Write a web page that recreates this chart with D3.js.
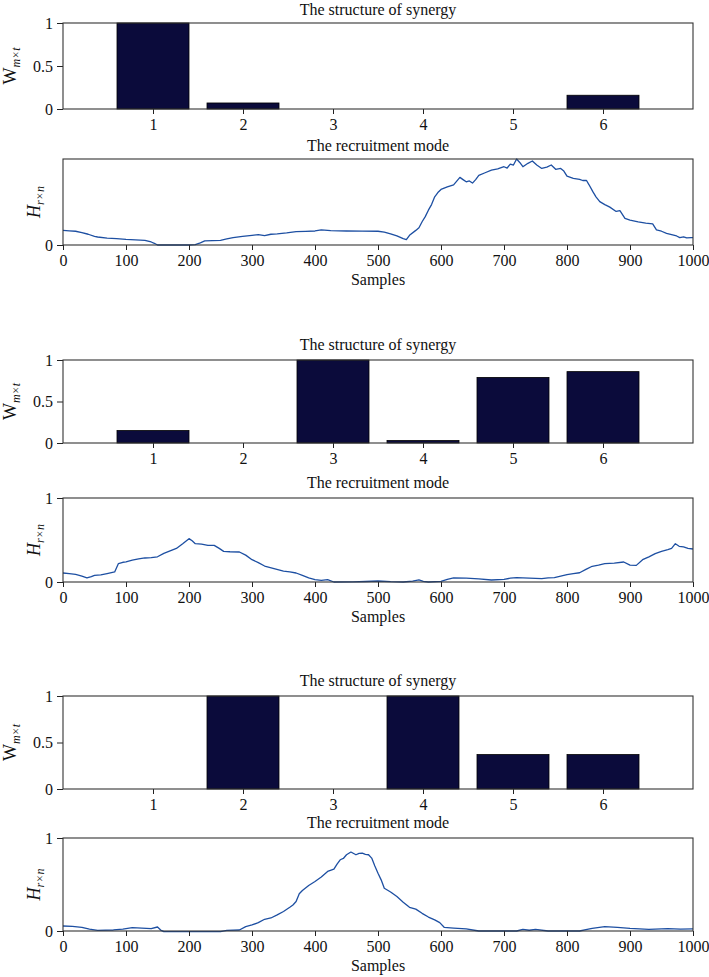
<!DOCTYPE html>
<html>
<head>
<meta charset="utf-8">
<script src="https://cdn.jsdelivr.net/npm/d3@7"></script>
<style>
  body { margin: 0; background: #fff; }
  svg text { font-family: "Liberation Serif", "DejaVu Serif", serif; fill: #111; }
</style>
</head>
<body>
<svg id="chart" width="709" height="977"></svg>
<script>
// bar categories and synergy weights
const categories = [1, 2, 3, 4, 5, 6];
const synergy1 = [1.0, 0.07, 0, 0, 0, 0.16];
const synergy2 = [0.15, 0, 1.0, 0.03, 0.79, 0.86];
const synergy3 = [0, 1.0, 0, 1.0, 0.37, 0.37];
const barTicksY = [0, 0.5, 1];
const sampleTicks = [0, 100, 200, 300, 400, 500, 600, 700, 800, 900, 1000];

// recruitment modes: [sample, value]
const mode1 = [
  [0, 0.17], [10, 0.165], [20, 0.16], [30, 0.145], [40, 0.125], [50, 0.10], [55, 0.093], [70, 0.08],
  [85, 0.075], [100, 0.066], [115, 0.06], [130, 0.054], [140, 0.035], [145, 0.02], [150, 0],
  [175, 0], [200, 0], [210, 0.004], [218, 0.025], [225, 0.047], [250, 0.054], [260, 0.07],
  [270, 0.085], [285, 0.1], [300, 0.113], [310, 0.12], [320, 0.11], [330, 0.125], [340, 0.13],
  [355, 0.14], [370, 0.155], [385, 0.158], [400, 0.163], [410, 0.175], [425, 0.168], [450, 0.163],
  [475, 0.162], [500, 0.16], [510, 0.15], [520, 0.13], [530, 0.105], [540, 0.074], [545, 0.062],
  [550, 0.113], [560, 0.17], [565, 0.2], [570, 0.27], [575, 0.33], [580, 0.405], [585, 0.47],
  [590, 0.56], [595, 0.61], [600, 0.646], [610, 0.675], [620, 0.70], [630, 0.786], [635, 0.76],
  [640, 0.735], [645, 0.745], [650, 0.72], [655, 0.76], [660, 0.81], [670, 0.84], [680, 0.87],
  [690, 0.885], [700, 0.91], [705, 0.895], [710, 0.94], [715, 0.93], [720, 1.0], [725, 0.96],
  [730, 0.91], [738, 0.95], [745, 0.977], [752, 0.93], [760, 0.89], [768, 0.905], [775, 0.93],
  [782, 0.88], [790, 0.89], [795, 0.86], [800, 0.80], [810, 0.775], [820, 0.763], [825, 0.75],
  [831, 0.75], [835, 0.7], [841, 0.62], [846, 0.56], [852, 0.505], [860, 0.47], [868, 0.44],
  [878, 0.39], [884, 0.40], [892, 0.31], [900, 0.29], [913, 0.27], [925, 0.255], [936, 0.245],
  [942, 0.175], [950, 0.16], [958, 0.136], [966, 0.12], [974, 0.105], [979, 0.086], [985, 0.095],
  [990, 0.082], [997, 0.086], [1000, 0.085]
];
const mode2 = [
  [0, 0.107], [10, 0.1], [20, 0.09], [30, 0.07], [38, 0.048], [45, 0.065], [50, 0.08], [60, 0.085],
  [70, 0.10], [82, 0.12], [88, 0.22], [95, 0.235], [100, 0.24], [110, 0.26], [120, 0.275],
  [130, 0.286], [140, 0.29], [150, 0.30], [160, 0.34], [170, 0.37], [180, 0.40], [190, 0.456],
  [200, 0.516], [205, 0.49], [210, 0.456], [220, 0.45], [230, 0.436], [240, 0.436], [248, 0.4],
  [255, 0.365], [265, 0.36], [280, 0.357], [290, 0.32], [300, 0.266], [310, 0.23], [320, 0.19],
  [335, 0.16], [350, 0.13], [360, 0.12], [370, 0.107], [380, 0.08], [390, 0.05], [400, 0.028],
  [410, 0.02], [420, 0.028], [430, 0], [460, 0.002], [480, 0.006], [500, 0.012], [520, 0.004],
  [540, 0], [555, 0.01], [565, 0.024], [572, 0.008], [580, 0], [600, 0.008], [610, 0.03],
  [620, 0.048], [640, 0.045], [660, 0.036], [680, 0.024], [700, 0.032], [710, 0.045], [720, 0.052],
  [740, 0.045], [760, 0.04], [770, 0.048], [780, 0.052], [790, 0.07], [800, 0.087], [810, 0.1],
  [820, 0.11], [830, 0.15], [840, 0.187], [850, 0.2], [860, 0.218], [875, 0.225], [890, 0.238],
  [900, 0.20], [910, 0.198], [920, 0.266], [930, 0.3], [940, 0.337], [950, 0.365], [960, 0.385],
  [966, 0.4], [972, 0.456], [978, 0.425], [985, 0.417], [992, 0.4], [1000, 0.393]
];
const mode3 = [
  [0, 0.054], [15, 0.05], [30, 0.04], [42, 0.02], [55, 0.007], [80, 0.011], [95, 0.02], [110, 0.036],
  [125, 0.03], [140, 0.025], [150, 0.043], [155, 0.01], [160, -0.006], [200, -0.007], [250, -0.006],
  [260, 0.007], [280, 0.011], [290, 0.047], [300, 0.065], [310, 0.09], [320, 0.126], [330, 0.14],
  [340, 0.173], [350, 0.21], [360, 0.255], [365, 0.28], [370, 0.317], [375, 0.4], [380, 0.435],
  [390, 0.49], [400, 0.532], [410, 0.58], [420, 0.64], [430, 0.665], [435, 0.72], [440, 0.766],
  [445, 0.78], [450, 0.82], [457, 0.849], [465, 0.82], [470, 0.835], [475, 0.838], [480, 0.825],
  [485, 0.82], [490, 0.784], [495, 0.7], [500, 0.622], [505, 0.55], [510, 0.46], [520, 0.42],
  [530, 0.37], [540, 0.31], [550, 0.255], [560, 0.235], [570, 0.19], [580, 0.15], [590, 0.119],
  [598, 0.09], [605, 0.04], [620, 0.032], [640, 0.022], [660, 0], [700, 0], [720, 0], [730, 0.018],
  [740, 0.008], [750, 0.018], [770, 0], [800, 0], [820, 0], [830, 0.015], [840, 0.029], [860, 0.047],
  [880, 0.04], [900, 0.029], [930, 0.018], [960, 0.025], [980, 0.02], [1000, 0.022]
];

const panels = [
  {type: "bar", data: synergy1, top: 23, bottom: 109, titleY: 15},
  {type: "line", data: mode1, top: 159, bottom: 245, titleY: 151, yTicks: [0]},
  {type: "bar", data: synergy2, top: 360, bottom: 443, titleY: 350},
  {type: "line", data: mode2, top: 498, bottom: 582, titleY: 488, yTicks: [0, 1]},
  {type: "bar", data: synergy3, top: 696, bottom: 789, titleY: 686},
  {type: "line", data: mode3, top: 838, bottom: 931, titleY: 828, yTicks: [0, 1]}
];

const left = 63, right = 693;
const svg = d3.select("#chart");

panels.forEach(p => {
  const g = svg.append("g");
  const y = d3.scaleLinear().domain([0, 1]).range([p.bottom, p.top]);
  const x = p.type === "bar"
    ? d3.scaleLinear().domain([0, 7]).range([left, right])
    : d3.scaleLinear().domain([0, 1000]).range([left, right]);

  if (p.type === "bar") {
    g.selectAll("rect.bar")
      .data(p.data.map((v, i) => ({c: categories[i], v: v})).filter(d => d.v > 0))
      .join("rect")
      .attr("class", "bar")
      .attr("x", d => x(d.c - 0.4))
      .attr("width", x(0.8) - x(0))
      .attr("y", d => y(d.v))
      .attr("height", d => y(0) - y(d.v))
      .attr("fill", "#0b0b3b")
      .attr("stroke", "#000")
      .attr("stroke-width", 0.8);
  } else {
    const line = d3.line().x(d => x(d[0])).y(d => y(d[1]));
    g.append("path")
      .attr("d", line(p.data))
      .attr("fill", "none")
      .attr("stroke", "#1d4fa2")
      .attr("stroke-width", 1.3)
      .attr("stroke-linejoin", "round");
  }

  // axes
  const xAxis = p.type === "bar"
    ? d3.axisBottom(x).tickValues(categories).tickFormat(d3.format("d"))
    : d3.axisBottom(x).tickValues(sampleTicks).tickFormat(d3.format("d"));
  const yAxis = d3.axisLeft(y)
    .tickValues(p.type === "bar" ? barTicksY : p.yTicks)
    .tickFormat(d => d === 0.5 ? "0.5" : d3.format("d")(d));

  const gx = g.append("g").attr("transform", `translate(0,${p.bottom})`)
    .call(xAxis.tickSize(5).tickSizeOuter(0).tickPadding(5));
  const gy = g.append("g").attr("transform", `translate(${left},0)`)
    .call(yAxis.tickSize(6).tickSizeOuter(0).tickPadding(4));
  [gx, gy].forEach(a => {
    a.select(".domain").remove();
    a.selectAll("line").attr("stroke", "#222");
    a.selectAll("text").style("font-size", "16px").attr("fill", "#111");
  });

  // box
  g.append("rect")
    .attr("x", left).attr("y", p.top)
    .attr("width", right - left).attr("height", p.bottom - p.top)
    .attr("fill", "none").attr("stroke", "#333").attr("stroke-width", 1.1);

  // title
  g.append("text")
    .attr("x", (left + right) / 2).attr("y", p.titleY)
    .attr("text-anchor", "middle")
    .style("font-size", "16px")
    .text(p.type === "bar" ? "The structure of synergy" : "The recruitment mode");

  // y label
  const cy = (p.top + p.bottom) / 2;
  const lx = p.type === "bar" ? 16 : 40;
  const yl = g.append("text")
    .attr("transform", `translate(${lx},${cy}) rotate(-90)`)
    .attr("text-anchor", "middle")
    .style("font-size", "18px");
  yl.append("tspan")
    .style("font-style", p.type === "bar" ? "normal" : "italic")
    .text(p.type === "bar" ? "W" : "H");
  yl.append("tspan")
    .attr("dy", 4).style("font-size", "12px").style("font-style", "italic")
    .text(p.type === "bar" ? "m×t" : "r×n");

  if (p.type === "line") {
    g.append("text")
      .attr("x", (left + right) / 2).attr("y", p.bottom + 40)
      .attr("text-anchor", "middle")
      .style("font-size", "16px")
      .text("Samples");
  }
});
</script>
</body>
</html>
